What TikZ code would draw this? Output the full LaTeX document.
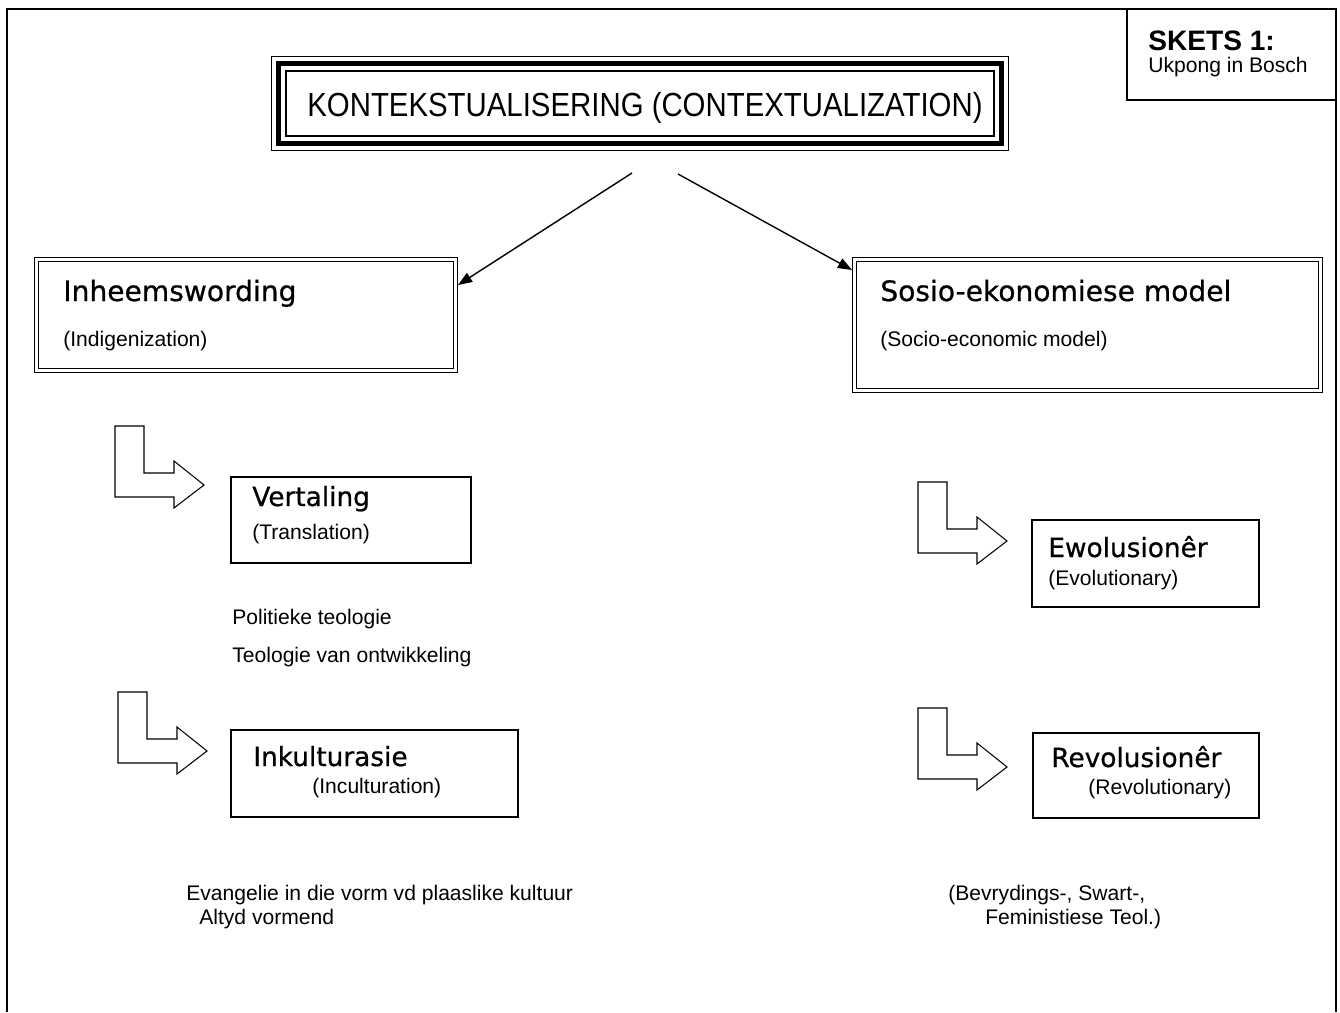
\documentclass[tikz,border=0pt]{standalone}
\usepackage{fontspec}
\setmainfont{Liberation Sans}
\newfontfamily\headfont[FakeBold=0.7]{DejaVu Sans}
\usetikzlibrary{arrows.meta,calc,fit}

\tikzset{
  head/.style={font=\headfont\fontsize{15}{18}\selectfont, anchor=base west, inner sep=0pt},
  bighead/.style={head, font=\headfont\fontsize{16}{19}\selectfont},
  sub/.style={font=\fontsize{12}{14}\selectfont, anchor=base west, inner sep=0pt},
  box/.style={draw, line width=0.8pt, inner sep=0pt},
  dbox/.style={draw, double, line width=0.6pt, double distance=2.2pt, inner sep=0pt},
  link/.style={line width=0.8pt, -{Triangle[length=8pt,width=6pt]}},
  bent/.style={line width=0.6pt, line join=miter},
}

\begin{document}
\begin{tikzpicture}[x=0.02cm, y=-0.02cm]
    \useasboundingbox (0,0) rectangle (1340,1012);

    % Page frame, open at the bottom
    \draw[line width=1.1pt] (7,1012) -- (7,9) -- (1336,9) -- (1336,1012);

    % Sketch label
    \node[box, fit={(1127,9) (1336,100)}] (skets) {};
    \node[font=\bfseries\fontsize{16}{19}\selectfont, anchor=base west, inner sep=0pt] (sketsa) at (1148,50) {SKETS 1:};
    \node[sub] (sketsb) at (1148,72) {Ukpong in Bosch};

    % Title box with triple border
    \node[draw, line width=0.6pt, inner sep=0pt, fit={(286,71) (994,136)}] (ctx) {};
    \draw[line width=2.4pt] ($(ctx.north west)+(-7,-7)$) rectangle ($(ctx.south east)+(7,7)$);
    \draw[line width=0.6pt] ($(ctx.north west)+(-14,-14)$) rectangle ($(ctx.south east)+(14,14)$);
    \node[anchor=base west, inner sep=0pt, font=\fontsize{19}{22}\selectfont] (ctxt) at (307,116)
      {\scalebox{0.88}[1]{KONTEKSTUALISERING (CONTEXTUALIZATION)}};

    % Two main models
    \node[dbox, fit={(36.5,259.5) (455.5,370.5)}] (inh) {};
    \node[bighead] (inht) at (63,301) {Inheemswording};
    \node[sub] (inhs) at (63,346) {(Indigenization)};

    \node[dbox, fit={(854.5,259.5) (1320.5,390.5)}] (sos) {};
    \node[bighead] (sost) at (880,301) {Sosio-ekonomiese model};
    \node[sub] (soss) at (880,346) {(Socio-economic model)};

    % Arrows from the title
    \coordinate (ls) at (632,173);
    \coordinate (rs) at (678,174);
    \draw[link] (ls) -- ($(inh.north east)+(2,26)$);
    \draw[link] (rs) -- ($(sos.north west)+(-2,11)$);

    % Sub boxes
    \node[box, fit={(231,477) (471,563)}] (vert) {};
    \node[head] (vertt) at (252,506) {Vertaling};
    \node[sub] (verts) at (252,539) {(Translation)};

    \node[box, fit={(231,730) (518,817)}] (inku) {};
    \node[head] (inkut) at (253,766) {Inkulturasie};
    \node[sub] (inkus) at (312,793) {(Inculturation)};

    \node[box, fit={(1032,520) (1259,607)}] (ewol) {};
    \node[head] (ewolt) at (1048,557) {Ewolusionêr};
    \node[sub] (ewols) at (1048,585) {(Evolutionary)};

    \node[box, fit={(1033,733) (1259,818)}] (revo) {};
    \node[head] (revot) at (1051,767) {Revolusionêr};
    \node[sub] (revos) at (1088,794) {(Revolutionary)};

    % Bent arrows
    \foreach \ox/\oy in {115/426, 118/692, 918/482, 918/708}
      \draw[bent] (\ox,\oy) -- ++(29,0) -- ++(0,47) -- ++(30,0) -- ++(0,-12) -- ++(30,24)
        -- ++(-30,23) -- ++(0,-11) -- ++(-59,0) -- cycle;

    % Notes
    \node[sub] (n1) at (232,624) {Politieke teologie};
    \node[sub] (n2) at (232,662) {Teologie van ontwikkeling};
    \node[sub] (n3) at (186,900) {Evangelie in die vorm vd plaaslike kultuur};
    \node[sub] (n4) at (199,924) {Altyd vormend};
    \node[sub] (n5) at (948,900) {(Bevrydings-, Swart-,};
    \node[sub] (n6) at (985,924) {Feministiese Teol.)};
\end{tikzpicture}
\end{document}
